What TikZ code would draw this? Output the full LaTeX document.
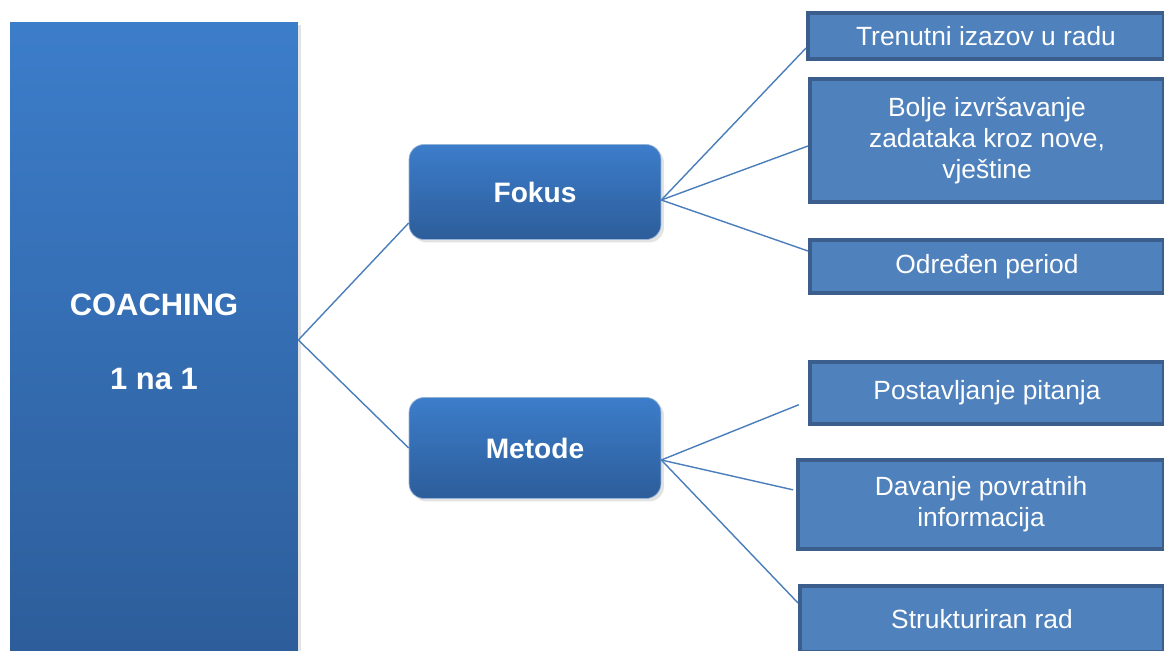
\documentclass[tikz,border=0pt]{standalone}
\usepackage{fontspec}
\setmainfont{Liberation Sans}
\usepackage{xcolor}
\usetikzlibrary{shadows}
\definecolor{topblue}{HTML}{3C7DCA}
\definecolor{lowblue}{HTML}{2D5D9A}
\definecolor{boxblue}{HTML}{4F81BD}
\definecolor{edgeblue}{HTML}{3B5E8C}
\definecolor{linkblue}{HTML}{4A7EBB}
\tikzset{
	mainbox/.style={rectangle, inner sep=0pt, top color=topblue, bottom color=lowblue, text=white,
		align=center, font=\fontsize{17.6}{21}\selectfont\bfseries,
		drop shadow={opacity=0.22, shadow xshift=0.6mm, shadow yshift=-0.6mm}},
	groupbox/.style={mainbox, rounded corners=3mm, draw=boxblue!60!white, line width=0.4pt,
		font=\fontsize{16}{19}\selectfont\bfseries},
	itembox/.style={rectangle, inner sep=0pt, fill=boxblue, draw=edgeblue, line width=0.8mm,
		text=white, align=center, font=\fontsize{15}{17.6}\selectfont},
	link/.style={draw=linkblue, line width=0.8pt}
}

\begin{document}
\begin{tikzpicture}[x=0.02cm, y=-0.02cm]
				\useasboundingbox (0,0) rectangle (1164,650);
				% left column
				\node[mainbox, minimum width=5.76cm, minimum height=12.8cm] (coach) at (154,342)
					{COACHING\\[7.4mm]1 na 1};
				% middle
				\node[groupbox, minimum width=5.04cm, minimum height=1.9cm] (fokus) at (535,192) {Fokus};
				\node[groupbox, minimum width=5.04cm, minimum height=2.02cm] (metode) at (535,448) {Metode};
				% right column
				\node[itembox, minimum width=7.12cm, minimum height=0.92cm] (trenutni) at (986,36) {Trenutni izazov u radu};
				\node[itembox, minimum width=7.08cm, minimum height=2.46cm] (bolje) at (987,140.5) {Bolje izvršavanje\\zadataka kroz nove,\\vještine};
				\node[itembox, minimum width=7.08cm, minimum height=1.06cm] (odreden) at (987,266.5) {Određen period};
				\node[itembox, minimum width=7.08cm, minimum height=1.24cm] (postavljanje) at (987,393) {Postavljanje pitanja};
				\node[itembox, minimum width=7.32cm, minimum height=1.78cm] (davanje) at (981,504.5) {Davanje povratnih\\informacija};
				\node[itembox, minimum width=7.28cm, minimum height=1.32cm] (struktur) at (982,619) {Strukturiran rad};
				% links
				\draw[link] ([yshift=0.4mm]coach.east) -- ([yshift=-6.2mm]fokus.west);
				\draw[link] ([yshift=0.4mm]coach.east) -- (metode.west);
				\foreach \n/\s in {trenutni/-2.4mm, bolje/-1.1mm, odreden/3.1mm}
					\draw[link] ([yshift=-1.6mm]fokus.east) -- ([yshift=\s]\n.west);
				\draw[link, shorten >=2mm] ([yshift=-2.4mm]metode.east) -- ([yshift=-1.6mm]postavljanje.west);
				\draw[link, shorten >=0.6mm] ([yshift=-2.4mm]metode.east) -- ([yshift=2.8mm]davanje.west);
				\draw[link] ([yshift=-2.4mm]metode.east) -- ([yshift=3.2mm]struktur.west);
			\end{tikzpicture}
\end{document}
